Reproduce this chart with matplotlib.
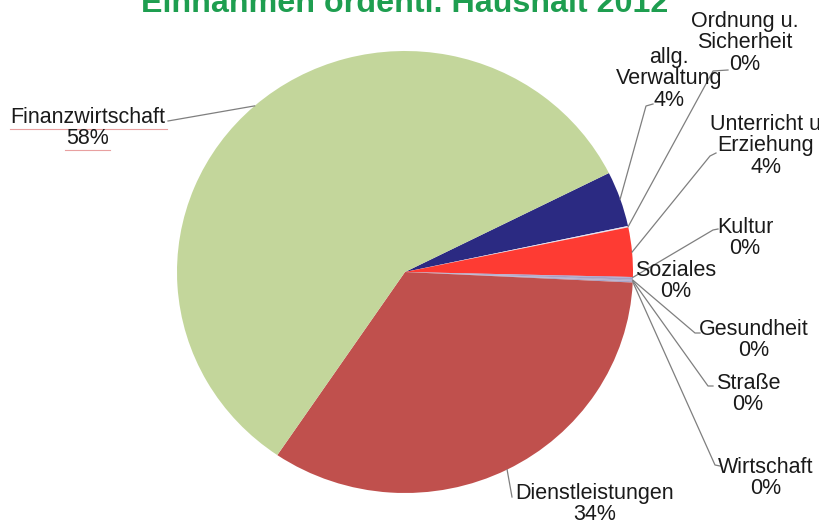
import numpy as np
import matplotlib
matplotlib.use("Agg")
import matplotlib.pyplot as plt

plt.rcParams['font.family'] = ['Liberation Sans', 'DejaVu Sans']

# values (percent), clockwise from the top-right
labels = ['allg.\nVerwaltung', 'Ordnung u.\nSicherheit', 'Unterricht u\nErziehung',
          'Kultur', 'Soziales', 'Gesundheit', 'Straße', 'Wirtschaft',
          'Dienstleistungen', 'Finanzwirtschaft']
values = [4.05, 0.1, 3.6, 0.05, 0.15, 0.05, 0.05, 0.1, 33.7, 58.15]
pct_text = ['4%', '0%', '4%', '0%', '0%', '0%', '0%', '0%', '34%', '58%']
colors = ['#2b2a82', '#e4e4f2', '#fe3b33', '#8c8cc8', '#a8a0c4', '#9090b8',
          '#b0a0c4', '#a8a4c8', '#c0504d', '#c3d69b']

# label layout in reference pixels: text centre, leader end (None = no leader)
label_pos = [(669, 79), (745, 43), (766, 146), (745, 238), (676, 281),
             (754, 340), (748, 394), (766, 478), (595, 504), (88, 128)]
leader_end = [[(646, 106), (653, 104)], [(713, 71), (728, 70)],
              [(710, 156), (716, 153)], [(713, 230), (718, 229)], None,
              [(695, 333), (700, 333)], [(708, 386), (713, 386)],
              [(715, 465), (720, 466)], [(512, 497)], [(168, 121)]]

W, H = 820, 523
cx, cy, rx, ry = 405, 272, 228, 221


def px2data(p):
    return (p[0] - cx) / rx, (cy - p[1]) / ry


fig = plt.figure(figsize=(W / 100, H / 100), dpi=100)
ax = fig.add_axes([(cx - rx) / W, 1 - (cy + ry) / H, 2 * rx / W, 2 * ry / H])

wedges, _ = ax.pie(values, colors=colors, startangle=26.6, counterclock=False,
                   wedgeprops=dict(linewidth=0))
ax.set_aspect('auto')
ax.set_xlim(-1, 1)
ax.set_ylim(-1, 1)
ax.axis('off')

for w, lab, pct, pos, lead in zip(wedges, labels, pct_text, label_pos, leader_end):
    tx, ty = px2data(pos)
    ax.text(tx, ty, lab + '\n' + pct, ha='center', va='center', fontsize=15.5,
            color='#1a1a1a', linespacing=1.02, clip_on=False, zorder=3)
    if lead is not None:
        mid = np.deg2rad((w.theta1 + w.theta2) / 2)
        xs = [np.cos(mid)] + [px2data(p)[0] for p in lead]
        ys = [np.sin(mid)] + [px2data(p)[1] for p in lead]
        ax.plot(xs, ys, color='#7f7f7f', lw=0.9, clip_on=False)

# faint spell-check underline seen under "Finanzwirtschaft 58%"
for a, b in [((10, 129), (167, 129)), ((65, 150), (110, 150))]:
    pa, pb = px2data(a), px2data(b)
    ax.plot([pa[0], pb[0]], [pa[1], pb[1]], color='#e8a0a0', lw=0.8, clip_on=False)

fig.text(0.494, 1 - 12 / H, 'Einnahmen ordentl. Haushalt 2012', ha='center',
         va='baseline', fontsize=23.2, fontweight='bold', color='#1e9e50')

fig.savefig('out.png', dpi=100)
